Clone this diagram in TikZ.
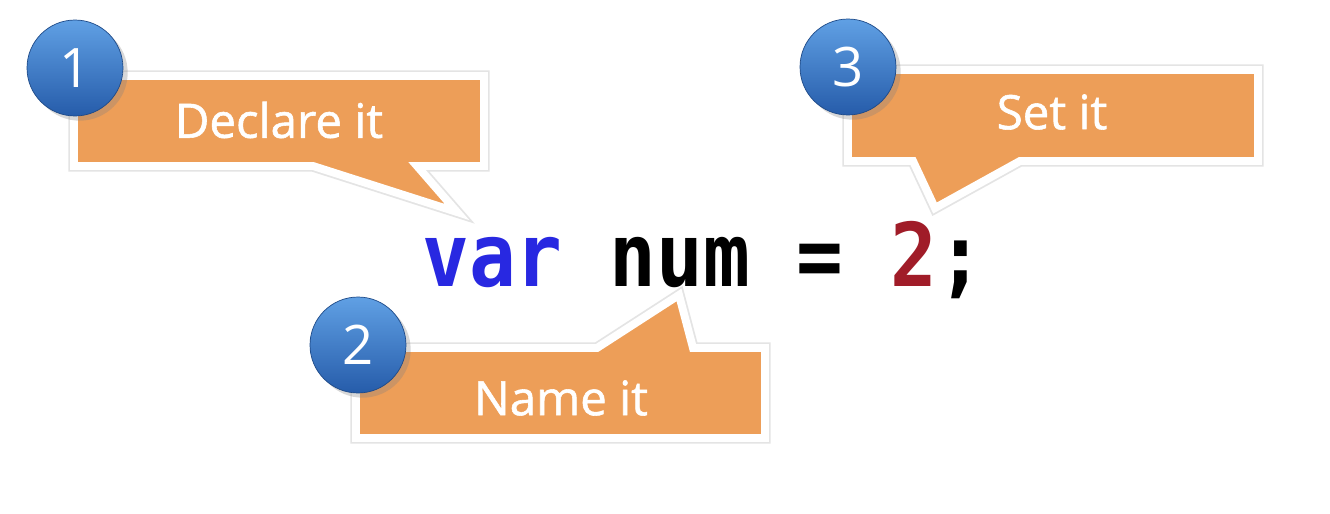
\documentclass[tikz,border=0pt]{standalone}
\usepackage{fontspec}
\setmainfont{Open Sans}
\newfontfamily\codefont[FakeStretch=0.885]{DejaVu Sans Mono}
\newfontfamily\calloutfont[FakeBold=1.2]{Open Sans}
\usetikzlibrary{shadows}
\definecolor{calloutfill}{RGB}{237,158,88}
\definecolor{badgetop}{RGB}{96,160,228}
\definecolor{badgebottom}{RGB}{38,92,170}
\definecolor{keyword}{RGB}{40,40,225}
\definecolor{literal}{RGB}{160,28,40}

\begin{document}
\begin{tikzpicture}[x=0.02cm,y=-0.02cm,
  calloutbox/.style={preaction={draw=black!30,line width=6.5pt,line join=miter,opacity=0.35},
    fill=calloutfill,draw=white,line width=4.5pt,line join=miter},
  badge/.style={circle,minimum size=1.92cm,inner sep=0pt,top color=badgetop,bottom color=badgebottom,
    draw=badgebottom!80!black,line width=0.4pt,text=white,font=\fontsize{31}{31}\selectfont,
    drop shadow={opacity=0.3}},
  callouttext/.style={text=white,font=\calloutfont\fontsize{27}{27}\selectfont}]

% Canvas
\fill[white] (0,0) rectangle (1330,514);
\useasboundingbox (0,0) rectangle (1330,514);

% Callout shapes
\path[calloutbox] (74,76) -- (484,76) -- (484,166) -- (417,166) -- (457,212) -- (313,166) -- (74,166) -- cycle;
\path[calloutbox] (356,348) -- (597,348) -- (679,295) -- (693,348) -- (765,348) -- (765,438) -- (356,438) -- cycle;
\path[calloutbox] (848,70) -- (1258,70) -- (1258,161) -- (1020,161) -- (935,208) -- (913,161) -- (848,161) -- cycle;

% Callout texts
\node[callouttext] (declare) at (279,120) {Declare it};
\node[callouttext] (name) at (561,398) {Name it};
\node[callouttext] (set) at (1052,112) {Set it};

% Step badges
\node[badge] (step1) at (75,68) {1};
\node[badge] (step2) at (358,345) {2};
\node[badge] (step3) at (848,67) {3};

% Code line
\node[anchor=base west,inner sep=0pt,font=\codefont\bfseries\fontsize{50}{50}\selectfont] (code) at (422,286)
  {\textcolor{keyword}{var} num = \textcolor{literal}{2};};

\end{tikzpicture}
\end{document}
